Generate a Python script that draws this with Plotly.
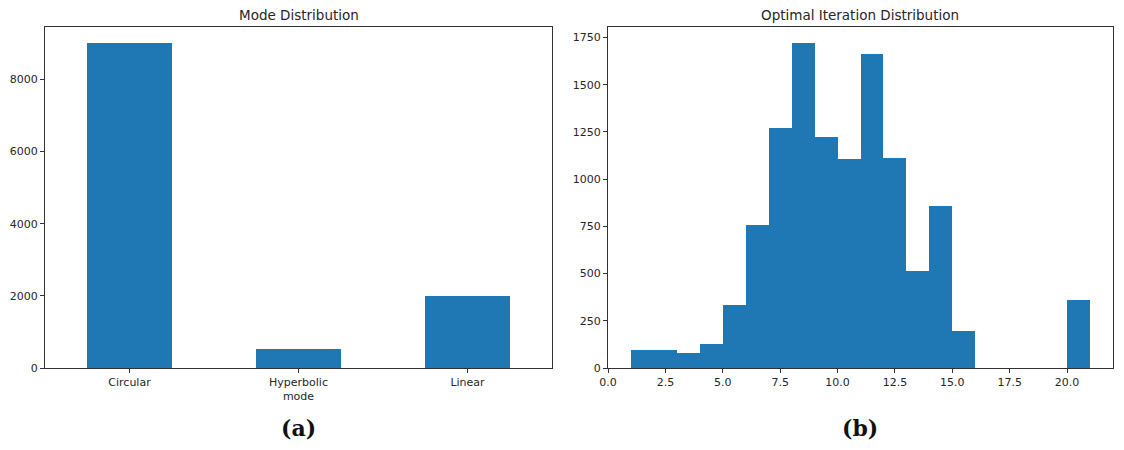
import plotly.graph_objects as go
from plotly.subplots import make_subplots

# --- data -------------------------------------------------------------------
modes = ['Circular', 'Hyperbolic', 'Linear']
mode_counts = [9005, 518, 1996]

# histogram of optimal iteration, 20 bins of width 1 from 1 to 21
bin_edges = list(range(1, 22))
iter_counts = [94, 94, 81, 125, 334, 757, 1271, 1720, 1223, 1109,
               1661, 1114, 514, 856, 198, 0, 0, 0, 0, 358]

blue = '#1f77b4'
W, H = 1124, 450

fig = make_subplots(rows=1, cols=2)

fig.add_trace(go.Bar(
    x=list(range(len(modes))), y=mode_counts, width=0.5,
    marker=dict(color=blue, line=dict(width=0)), showlegend=False
), row=1, col=1)

centers = [(bin_edges[i] + bin_edges[i + 1]) / 2 for i in range(len(iter_counts))]
fig.add_trace(go.Bar(
    x=centers, y=iter_counts, width=1,
    marker=dict(color=blue, line=dict(width=0)), showlegend=False
), row=1, col=2)

# axes placement in pixels, converted to paper fractions
left_x = [45 / W, 552 / W]
right_x = [608 / W, 1113 / W]
y_dom = [1 - 368 / H, 1 - 27 / H]

text_col = '#262626'
axis_common = dict(
    showline=True, linecolor='#333', linewidth=1, mirror=True,
    showgrid=False, zeroline=False, automargin=False,
    ticks='outside', ticklen=4, tickcolor='#333',
    tickfont=dict(family='DejaVu Sans', size=11, color=text_col),
)

fig.update_xaxes(axis_common)
fig.update_yaxes(axis_common)

fig.update_xaxes(
    domain=left_x, range=[-0.5, 2.5],
    tickvals=list(range(len(modes))), ticktext=modes,
    title=dict(text='mode', font=dict(family='DejaVu Sans', size=11, color=text_col), standoff=4),
    row=1, col=1)
fig.update_yaxes(domain=y_dom, range=[0, 9450], tickvals=[0, 2000, 4000, 6000, 8000],
                 tickformat='d', row=1, col=1)

fig.update_xaxes(domain=right_x, range=[0, 22], tick0=0, dtick=2.5, tickformat='.1f',
                 row=1, col=2)
fig.update_yaxes(domain=y_dom, range=[0, 1806], tick0=0, dtick=250, tickformat='d',
                 row=1, col=2)

title_font = dict(family='DejaVu Sans', size=13.5, color=text_col)
cap_font = dict(family='DejaVu Serif', size=22, color='#111')
annotations = []
for dom, title, cap in [(left_x, 'Mode Distribution', '(a)'),
                        (right_x, 'Optimal Iteration Distribution', '(b)')]:
    annotations.append(dict(text=title, x=sum(dom) / 2, y=1 - 15 / H, xanchor='center',
                            yanchor='middle', xref='paper', yref='paper',
                            showarrow=False, font=title_font))
    annotations.append(dict(text='<b>' + cap + '</b>', x=sum(dom) / 2, y=1 - 428 / H,
                            xanchor='center', yanchor='middle', xref='paper', yref='paper',
                            showarrow=False, font=cap_font))

fig.update_layout(
    width=W, height=H,
    margin=dict(l=0, r=0, t=0, b=0, autoexpand=False),
    paper_bgcolor='white', plot_bgcolor='white',
    bargap=0, annotations=annotations,
    showlegend=False,
)

fig.write_html('out.html', config={'displayModeBar': False},
               post_script="document.body.style.margin='0';")
